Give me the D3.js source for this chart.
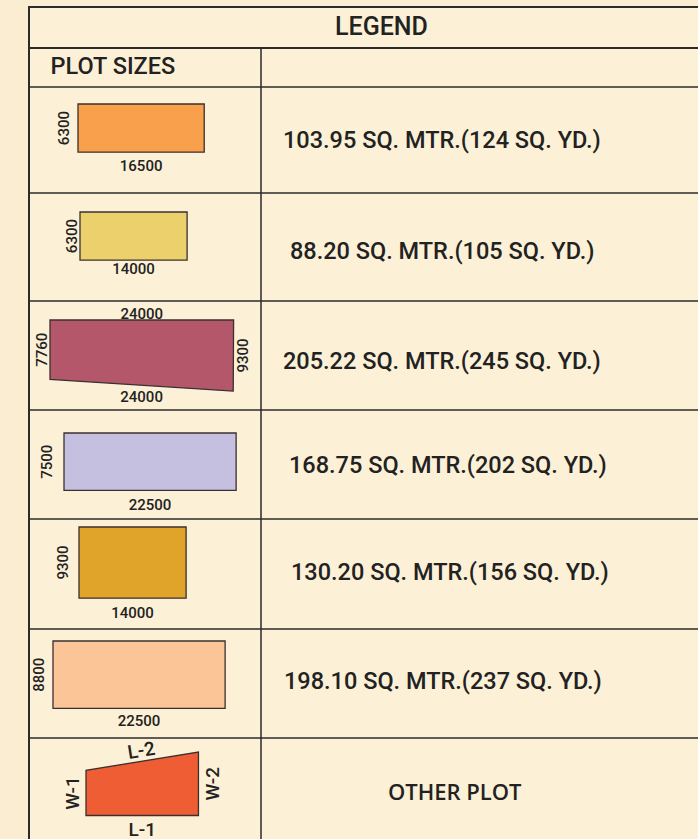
<!DOCTYPE html>
<html>

<head>
  <script src="https://d3js.org/d3.v7.min.js"></script>

  <style>
    body { margin: 0; background: #fbedd2; }
    svg { display: block; font-family: Roboto, "Noto Sans", sans-serif; }
  </style>
</head>

<body>

  <div id="svgcontainer"></div>

  <script>

    /* data: plot dimensions (mm) and areas */
    var plotLength = [16500, 14000, 24000, 22500, 14000, 22500];   // top / bottom side
    var plotLength2 = [16500, 14000, 24000, 22500, 14000, 22500];  // bottom side
    var plotWidth = [6300, 6300, 7760, 7500, 9300, 8800];          // left side
    var plotWidth2 = [6300, 6300, 9300, 7500, 9300, 8800];         // right side
    var areaSqMtr = ["103.95", "88.20", "205.22", "168.75", "130.20", "198.10"];
    var areaSqYd = ["124", "105", "245", "202", "156", "237"];
    var plotColors = ["#f8a04b", "#ecd06b", "#b4576b", "#c6c0e0", "#e1a42a", "#fbc597"];

    // the "other plot" sketch, nominal sides
    var otherLabels = ["L-1", "W-1", "W-2", "L-2"];
    var otherSides = [14700, 5900, 8300];  // L-1, W-1, W-2
    var otherColor = "#ef5d35";

    var headerText = "LEGEND";
    var subHeaderText = "PLOT SIZES";
    var otherText = "OTHER PLOT";

    /* layout */
    var width = 698, height = 839;
    var tableLeft = 29, colSplit = 261, tableRight = 740;
    var lineY = [7, 48, 87, 193, 301, 410, 519, 629, 738];
    var shapeX = [78, 80, 50, 64, 79, 53, 86];
    var shapeDy = [17, 19, 19, 23, 8, 12, 14];
    var bottomGap = [14, 8.7, 11, 14, 15, 12, 14];
    var leftGap = [14, 8, 8.3, 17, 16, 14, 13.7];
    var textX = [283, 290, 283, 289, 291, 284];
    var textDy = [0, 4, 5, 0, -2, -3];

    var ink = "#222";

    var svg = d3.select("#svgcontainer")
      .append("svg")
      .attr("width", width)
      .attr("height", height);

    // mm -> px, same drawing scale for every plot
    var s = d3.scaleLinear()
      .domain([0, 24000])
      .range([0, 183.6]);

    // table background
    svg.append("rect")
      .attr("x", tableLeft)
      .attr("y", lineY[0])
      .attr("width", tableRight - tableLeft)
      .attr("height", height - lineY[0])
      .attr("fill", "#fcf0d6");

    // horizontal rules
    svg.selectAll("line.h")
      .data(lineY)
      .enter()
      .append("line")
      .attr("class", "h")
      .attr("x1", tableLeft)
      .attr("x2", tableRight)
      .attr("y1", d => d)
      .attr("y2", d => d)
      .attr("stroke", "#2b2b2b")
      .attr("stroke-width", (d, i) => i < 2 ? 2 : 1.5);

    // vertical rules
    svg.append("line")
      .attr("x1", tableLeft).attr("x2", tableLeft)
      .attr("y1", lineY[0] - 1).attr("y2", height)
      .attr("stroke", "#2b2b2b").attr("stroke-width", 2);
    svg.append("line")
      .attr("x1", colSplit).attr("x2", colSplit)
      .attr("y1", lineY[1]).attr("y2", height)
      .attr("stroke", "#2b2b2b").attr("stroke-width", 1.5);

    // headers
    svg.append("text")
      .attr("x", 381.5)
      .attr("y", 26.7)
      .attr("dy", "0.35em")
      .attr("text-anchor", "middle")
      .attr("font-size", 25)
      .attr("font-weight", 500)
      .attr("fill", ink)
      .text(headerText);

    svg.append("text")
      .attr("x", 50.5)
      .attr("y", 65.5)
      .attr("dy", "0.35em")
      .attr("font-size", 23.5)
      .attr("font-weight", 500)
      .attr("fill", ink)
      .text(subHeaderText);

    // corner points of a plot: left side vertical, top side horizontal,
    // bottom-right found from the bottom and right side lengths
    function plotCorners(i) {
      var a = s(plotLength[i]), b = s(plotLength2[i]);
      var w1 = s(plotWidth[i]), w2 = s(plotWidth2[i]);
      var p0 = [0, w1], p1 = [a, 0];
      var dx = p1[0] - p0[0], dy = p1[1] - p0[1];
      var d = Math.sqrt(dx * dx + dy * dy);
      var l = (b * b - w2 * w2 + d * d) / (2 * d);
      var h = Math.sqrt(Math.max(0, b * b - l * l));
      var mx = p0[0] + l * dx / d, my = p0[1] + l * dy / d;
      var c1 = [mx + h * dy / d, my - h * dx / d];
      var c2 = [mx - h * dy / d, my + h * dx / d];
      var br = (c1[0] + c1[1] > c2[0] + c2[1]) ? c1 : c2;
      return [[0, 0], [a, 0], br, [0, w1]];
    }

    function smallLabel(g, x, y, txt, rotate) {
      g.append("text")
        .attr("transform", "translate(" + x + "," + y + ")" + (rotate ? " rotate(" + rotate + ")" : ""))
        .attr("dy", "0.35em")
        .attr("text-anchor", "middle")
        .attr("font-size", 15)
        .attr("font-weight", 500)
        .attr("fill", ink)
        .text(txt);
    }

    // plot rows
    plotLength.forEach(function (len, i) {
      var rowTop = lineY[i + 2];
      var g = svg.append("g")
        .attr("transform", "translate(" + shapeX[i] + "," + (rowTop + shapeDy[i]) + ")");
      var pts = plotCorners(i);

      g.append("polygon")
        .attr("points", pts.map(p => p.join(",")).join(" "))
        .attr("fill", plotColors[i])
        .attr("stroke", "#3a3030")
        .attr("stroke-width", 1.3);

      // bottom side
      smallLabel(g, (pts[2][0] + pts[3][0]) / 2, (pts[2][1] + pts[3][1]) / 2 + bottomGap[i], plotLength2[i]);
      // left side
      smallLabel(g, -leftGap[i], pts[3][1] / 2, plotWidth[i], -90);

      // irregular plot: label top and right too
      if (plotLength[i] !== plotLength2[i] || plotWidth[i] !== plotWidth2[i]) {
        smallLabel(g, pts[1][0] / 2, -6, plotLength[i]);
        smallLabel(g, (pts[1][0] + pts[2][0]) / 2 + 9, (pts[1][1] + pts[2][1]) / 2, plotWidth2[i], -90);
      }

      var cy = (lineY[i + 2] + lineY[i + 3]) / 2 + textDy[i];
      svg.append("text")
        .attr("x", textX[i])
        .attr("y", cy)
        .attr("dy", "0.35em")
        .attr("font-size", 23.5)
        .attr("font-weight", 500)
        .attr("fill", ink)
        .text(areaSqMtr[i] + " SQ. MTR.(" + areaSqYd[i] + " SQ. YD.)");
    });

    // other plot sketch: bottom horizontal, both sides vertical
    var k = 6;
    var L = s(otherSides[0]), W1 = s(otherSides[1]), W2 = s(otherSides[2]);
    var og = svg.append("g")
      .attr("transform", "translate(" + shapeX[k] + "," + (lineY[8] + shapeDy[k] + W2) + ")");
    og.append("polygon")
      .attr("points", [[0, 0], [L, 0], [L, -W2], [0, -W1]].map(p => p.join(",")).join(" "))
      .attr("fill", otherColor)
      .attr("stroke", "#3a3030")
      .attr("stroke-width", 1.3);

    function otherLabel(x, y, txt, rotate) {
      og.append("text")
        .attr("transform", "translate(" + x + "," + y + ") rotate(" + rotate + ")")
        .attr("dy", "0.35em")
        .attr("text-anchor", "middle")
        .attr("font-size", 19)
        .attr("font-weight", 500)
        .attr("fill", ink)
        .text(txt);
    }
    var slope = Math.atan2(W1 - W2, L) * 180 / Math.PI;
    otherLabel(L / 2, bottomGap[k], otherLabels[0], 0);
    otherLabel(-leftGap[k], -W1 / 2, otherLabels[1], -90);
    otherLabel(L + 14, -W2 / 2, otherLabels[2], -90);
    otherLabel(L / 2 - 1, -(W1 + W2) / 2 - 11, otherLabels[3], slope);

    svg.append("text")
      .attr("x", 454.7)
      .attr("y", 792)
      .attr("dy", "0.35em")
      .attr("text-anchor", "middle")
      .attr("font-family", "'Open Sans', sans-serif")
      .attr("font-size", 22)
      .attr("font-weight", 600)
      .attr("fill", ink)
      .text(otherText);

  </script>
</body>

</html>
